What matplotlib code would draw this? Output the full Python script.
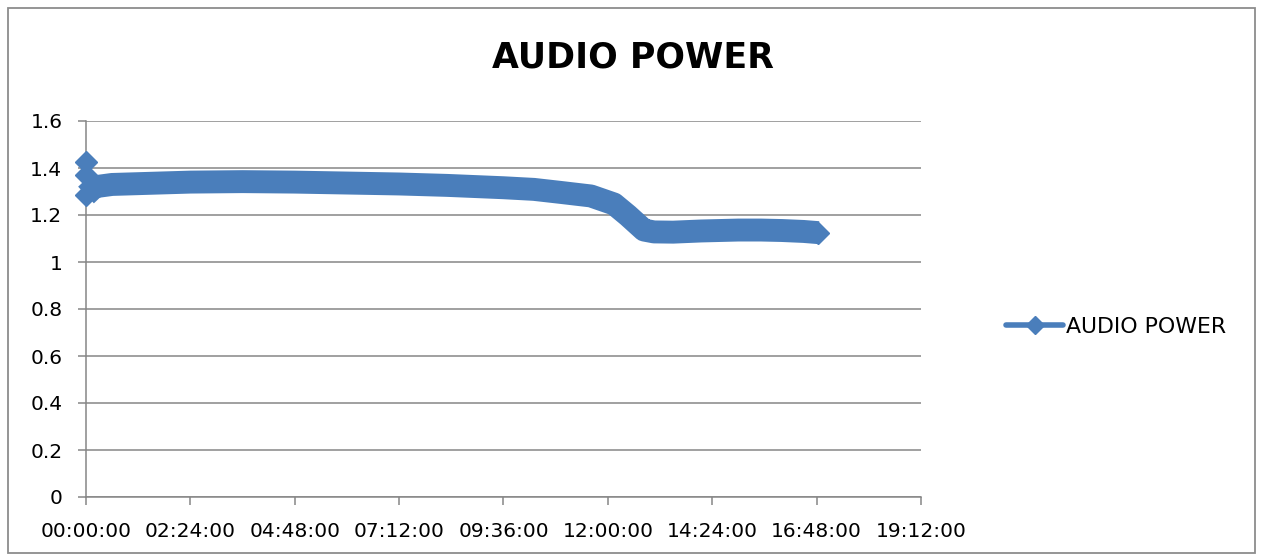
import matplotlib
matplotlib.use("Agg")
import matplotlib.pyplot as plt
from matplotlib.lines import Line2D
from matplotlib.patches import Rectangle
from matplotlib.ticker import FuncFormatter

# readings: elapsed time in hours, audio power
hours = [0.0, 0.0, 0.0, 0.2, 0.6, 1.5, 2.4, 3.6, 4.8, 6.0, 7.2, 8.3, 9.6,
         10.3, 10.92, 11.61, 12.14, 12.46, 12.83, 13.06, 13.5, 14.14,
         15.0, 15.52, 16.0, 16.5, 16.84]
power = [1.37, 1.425, 1.285, 1.32, 1.33, 1.335, 1.34, 1.342, 1.34, 1.336,
         1.332, 1.326, 1.316, 1.309, 1.296, 1.281, 1.247, 1.198, 1.136,
         1.128, 1.127, 1.132, 1.136, 1.136, 1.134, 1.13, 1.125]

y_ticks = [0, 0.2, 0.4, 0.6, 0.8, 1, 1.2, 1.4, 1.6]
x_ticks = [0, 2.4, 4.8, 7.2, 9.6, 12.0, 14.4, 16.8, 19.2]

blue = "#4a7ebb"
grey = "#868686"

W, H = 1262, 559
fig = plt.figure(figsize=(W / 100, H / 100), dpi=100)
fig.patch.set_facecolor("white")

# chart border like the excel chart area
fig.add_artist(Rectangle((8 / W, 6 / H), 1247 / W, 545 / H, transform=fig.transFigure,
                         fill=False, edgecolor="#8c8c8c", linewidth=1.3))

ax = fig.add_axes([86 / W, 62 / H, 835 / W, 376 / H])

# the dense run of markers reads as a thick band -> thick line from the 3rd point on,
# the first readings stay as separate diamonds
ax.plot(hours[2:], power[2:], color=blue, linewidth=16.5, solid_capstyle="butt",
        solid_joinstyle="round", clip_on=False, zorder=3)
ax.plot(hours[:3], power[:3], linestyle="none", marker="D", markersize=11,
        color=blue, clip_on=False, zorder=4)
ax.plot(hours[-1:], power[-1:], linestyle="none", marker="D", markersize=11,
        color=blue, zorder=4)

ax.set_xlim(0, 19.2)
ax.set_ylim(0, 1.6)
ax.set_xticks(x_ticks)
ax.set_yticks(y_ticks)

def fmt_time(h, pos):
    mins = int(round(h * 60))
    return "%02d:%02d:00" % (mins // 60, mins % 60)

def fmt_val(v, pos):
    return "%g" % round(v, 1)

ax.xaxis.set_major_formatter(FuncFormatter(fmt_time))
ax.yaxis.set_major_formatter(FuncFormatter(fmt_val))

ax.grid(axis="y", color=grey, linewidth=1.1, zorder=0)
ax.set_axisbelow(True)
for s in ["top", "right"]:
    ax.spines[s].set_visible(False)
for s in ["left", "bottom"]:
    ax.spines[s].set_color(grey)
    ax.spines[s].set_linewidth(1.1)

ax.tick_params(axis="both", colors=grey, labelcolor="black", labelsize=14.5,
               width=1.1, length=6, direction="out")
ax.tick_params(axis="y", pad=11)
ax.tick_params(axis="x", pad=12)

fig.text(633 / W, 1 - 67 / H, "AUDIO POWER", fontsize=25, fontweight="bold",
         ha="center", va="baseline")

handle = Line2D([], [], color=blue, linewidth=4, marker="D", markersize=9,
                solid_capstyle="round")
fig.legend([handle], ["AUDIO POWER"], loc="center left",
           bbox_to_anchor=(1006 / W, 1 - 327 / H), frameon=False, fontsize=15.8,
           borderpad=0, handlelength=2.6, handletextpad=0.15, borderaxespad=0)

fig.savefig("out.png", dpi=100)
